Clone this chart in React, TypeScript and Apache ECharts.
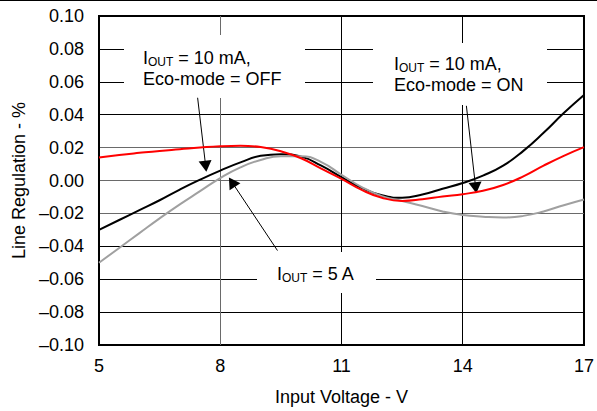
import React, { useEffect, useRef } from 'react';
import * as echarts from 'echarts';

// ---- data ----
const X_ORIGIN = 5; // axis offset so tick interval (3) starts from a multiple of itself
const voltage = [5, 5.5, 6, 6.5, 7, 7.5, 8, 8.5, 9, 9.5, 10, 10.5, 11, 11.5, 12, 12.5, 13, 13.5, 14, 14.5, 15, 15.5, 16, 16.5, 17];
const ecoOff10mA = [-0.030, -0.024, -0.018, -0.012, -0.0055, 0.0005, 0.006, 0.011, 0.015, 0.016, 0.0145, 0.009, 0.002, -0.0045, -0.009, -0.0105, -0.0085, -0.005, -0.0015, 0.003, 0.009, 0.018, 0.029, 0.041, 0.052];
const ecoOn10mA = [0.014, 0.0155, 0.0168, 0.018, 0.019, 0.020, 0.0208, 0.0211, 0.0203, 0.0178, 0.0135, 0.0072, 0.001, -0.0057, -0.0105, -0.0124, -0.0114, -0.0097, -0.0083, -0.0062, -0.0027, 0.0025, 0.009, 0.015, 0.0203];
const iout5A = [-0.050, -0.041, -0.032, -0.023, -0.0145, -0.0065, 0.0015, 0.008, 0.0125, 0.0148, 0.0148, 0.0112, 0.0035, -0.004, -0.0095, -0.0125, -0.0155, -0.0188, -0.021, -0.022, -0.0225, -0.0215, -0.0188, -0.015, -0.0115];

const xMin = 5;
const xMax = 17;
const xStep = 3;
const yMin = -0.1;
const yMax = 0.1;
const yStep = 0.02;

// annotation arrows: [start, end] in data units (V, %)
const arrowEcoOff = [[7.44, 0.0503], [7.64, 0.0087]];
const arrowEcoOn = [[14.09, 0.0454], [14.32, -0.0044]];
const arrow5A = [[9.416, -0.0426], [8.29, -0.001]];

const FONT = '"Liberation Sans", Arial, Helvetica, sans-serif';

const toPts = (vals: number[]) => voltage.map((v, i) => [v - X_ORIGIN, vals[i]]);
const arrowLine = (a: number[][]) => [
  { coord: [a[0][0] - X_ORIGIN, a[0][1]] },
  { coord: [a[1][0] - X_ORIGIN, a[1][1]] },
];

const fmtY = (v: number) => {
  const r = Math.round(v * 100) / 100;
  if (Math.abs(r) < 1e-9) return '0.00';
  return (r < 0 ? '\u2013' : '') + Math.abs(r).toFixed(2);
};

const rich = {
  n: { fontSize: 18, fontFamily: FONT, lineHeight: 21, fill: '#000' },
  s: { fontSize: 12, fontFamily: FONT, verticalAlign: 'bottom', fill: '#000' },
};

export default function App() {
  const ref = useRef<HTMLDivElement>(null);
  useEffect(() => {
    if (!ref.current) return;
    const chart = echarts.init(ref.current, null, { renderer: 'svg' });
    const gl = '#000';
    const gg = '#6a6a6a';
    chart.setOption({
      animation: false,
      backgroundColor: '#fff',
      grid: {
        left: 99,
        right: 10,
        top: 16,
        bottom: 64,
        show: true,
        borderColor: '#000',
        borderWidth: 2,
        backgroundColor: 'transparent',
      },
      xAxis: {
        type: 'value',
        min: xMin - X_ORIGIN,
        max: xMax - X_ORIGIN,
        interval: xStep,
        axisLine: { show: false },
        axisTick: { show: false },
        axisLabel: {
          formatter: (v: number) => String(v + X_ORIGIN),
          color: '#000',
          fontSize: 18,
          fontFamily: FONT,
          margin: 12,
        },
        splitLine: { show: true, lineStyle: { color: [gl, gg, gl, gl, gl], width: 1 } },
        name: 'Input Voltage - V',
        nameLocation: 'middle',
        nameGap: 43,
        nameTextStyle: { color: '#000', fontSize: 18, fontFamily: FONT },
      },
      yAxis: {
        type: 'value',
        min: yMin,
        max: yMax,
        interval: yStep,
        axisLine: { show: false },
        axisTick: { show: false },
        axisLabel: {
          formatter: fmtY,
          color: '#000',
          fontSize: 18,
          fontFamily: FONT,
          margin: 15,
        },
        splitLine: {
          show: true,
          lineStyle: { color: [gl, gl, gl, gl, gg, gg, gg, gl, gl, gl, gl], width: 1 },
        },
        name: 'Line Regulation - %',
        nameLocation: 'middle',
        nameGap: 70,
        nameTextStyle: { color: '#000', fontSize: 18, fontFamily: FONT },
      },
      series: [
        {
          type: 'line',
          name: 'IOUT = 10 mA, Eco-mode = OFF',
          data: toPts(ecoOff10mA),
          smooth: 0.5,
          showSymbol: false,
          lineStyle: { color: '#000', width: 2 },
          itemStyle: { color: '#000' },
          z: 3,
          markLine: {
            silent: true,
            symbol: ['none', 'triangle'],
            symbolSize: [13, 11],
            lineStyle: { color: '#000', width: 1, type: 'solid' },
            itemStyle: { color: '#000' },
            label: { show: false },
            emphasis: { disabled: true },
            data: [arrowLine(arrowEcoOff), arrowLine(arrowEcoOn), arrowLine(arrow5A)],
          },
        },
        {
          type: 'line',
          name: 'IOUT = 5 A',
          data: toPts(iout5A),
          smooth: 0.5,
          showSymbol: false,
          lineStyle: { color: '#a0a0a0', width: 2 },
          itemStyle: { color: '#a0a0a0' },
          z: 4,
        },
        {
          type: 'line',
          name: 'IOUT = 10 mA, Eco-mode = ON',
          data: toPts(ecoOn10mA),
          smooth: 0.5,
          showSymbol: false,
          lineStyle: { color: '#ff0000', width: 2 },
          itemStyle: { color: '#ff0000' },
          z: 5,
        },
      ],
      graphic: [
        { type: 'line', shape: { x1: 0, y1: 0.5, x2: 597, y2: 0.5 }, style: { stroke: '#000', lineWidth: 1 }, z: 10, silent: true },
        { type: 'rect', shape: { x: 124, y: 35, width: 181, height: 63 }, style: { fill: '#fff' }, z: 1, silent: true },
        { type: 'rect', shape: { x: 373, y: 43, width: 174, height: 62 }, style: { fill: '#fff' }, z: 1, silent: true },
        { type: 'rect', shape: { x: 257, y: 252, width: 119, height: 41 }, style: { fill: '#fff' }, z: 1, silent: true },
        {
          type: 'text', x: 143, y: 47, z: 2, silent: true,
          style: {
            text: '{n|I}{s|OUT}{n| = 10 mA,}\n{n|Eco-mode = OFF}',
            rich, fill: '#000', fontSize: 18, fontFamily: FONT, lineHeight: 21, verticalAlign: 'top', align: 'left',
          },
        },
        {
          type: 'text', x: 394, y: 53, z: 2, silent: true,
          style: {
            text: '{n|I}{s|OUT}{n| = 10 mA,}\n{n|Eco-mode = ON}',
            rich, fill: '#000', fontSize: 18, fontFamily: FONT, lineHeight: 21, verticalAlign: 'top', align: 'left',
          },
        },
        {
          type: 'text', x: 277, y: 263, z: 2, silent: true,
          style: {
            text: '{n|I}{s|OUT}{n| = 5 A}',
            rich, fill: '#000', fontSize: 18, fontFamily: FONT, lineHeight: 21, verticalAlign: 'top', align: 'left',
          },
        },
      ],
    });
    return () => chart.dispose();
  }, []);
  return (
    <div
      ref={ref}
      style={{ position: 'absolute', left: 0, top: 0, width: 597, height: 411, background: '#fff' }}
    />
  );
}
